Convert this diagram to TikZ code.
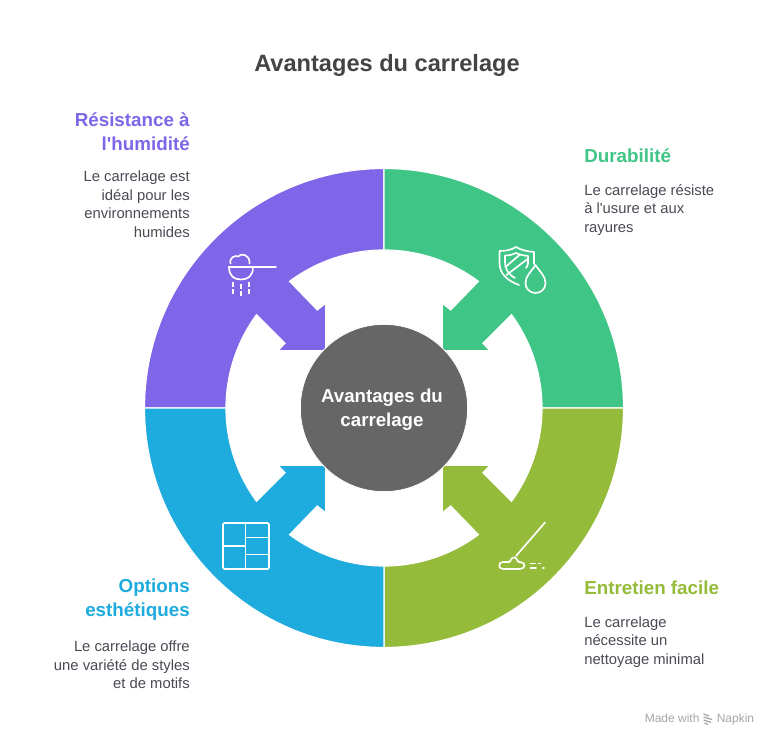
\documentclass[tikz,border=0pt]{standalone}
\usepackage{fontspec}
\setmainfont{Liberation Sans}
\definecolor{cpurple}{HTML}{7F66E8}
\definecolor{cgreen}{HTML}{3FC585}
\definecolor{colive}{HTML}{95BB3A}
\definecolor{cblue}{HTML}{1EABDD}
\definecolor{cgray}{HTML}{666666}
\definecolor{ctext}{HTML}{444444}
\definecolor{cbody}{HTML}{4A4A55}
\tikzset{
  quad/.style={draw=white,line width=0.9pt,line join=miter},
  px/.style={shift={(0,745)},yscale=-1},
  ttl/.style={text=ctext,inner sep=0pt,font=\bfseries\fontsize{17.7}{22}\selectfont},
  head/.style={inner sep=0pt,font=\bfseries\fontsize{14.1}{18}\selectfont},
  body/.style={inner sep=0pt,text=cbody,font=\fontsize{11.1}{13.9}\selectfont},
  ico/.style={draw=white,line width=1.25pt,line cap=round,line join=round},
  wm/.style={text=black!35,inner sep=0pt,font=\fontsize{9}{10}\selectfont},
}
\newcommand{\quadrant}[3]{%
  \begin{scope}[shift={(384,337)},xscale=#1,yscale=#2]
    \path[quad,fill=#3] (0,239.5) arc[start angle=90,end angle=180,radius=239.5]
      -- (-158,0) arc[start angle=180,end angle=143.8,radius=158]
      -- (-99,64.7) -- (-106,57.3) -- (-58.3,57.3) -- (-58.3,104.7) -- (-66.7,98)
      -- (126.7:158) arc[start angle=126.7,end angle=90,radius=158] -- cycle;
  \end{scope}}
\begin{document}
\begin{tikzpicture}[x=0.75pt,y=0.75pt]
\useasboundingbox[fill=white] (0,0) rectangle (774,745);
\quadrant{1}{1}{cpurple}
\quadrant{-1}{1}{cgreen}
\quadrant{-1}{-1}{colive}
\quadrant{1}{-1}{cblue}
\begin{scope}[px]
  \node[circle,fill=cgray,draw=white,line width=0.6pt,minimum size=125.5pt,inner sep=0pt] (center) at (384,408) {};
  \node[inner sep=0pt,align=center,text=white,font=\bfseries\fontsize{14}{18}\selectfont] (centerlabel) at (382,409.5) {Avantages du\\carrelage};
  \node[ttl] (title) at (387,65) {Avantages du carrelage};

  \node[head,text=cpurple,anchor=east,align=right] (h1) at (190,132) {Résistance à\\l\textquotesingle humidité};
  \node[body,anchor=east,align=right] (b1) at (190,204) {Le carrelage est\\idéal pour les\\environnements\\humides};

  \node[head,text=cgreen,anchor=west] (h2) at (584,156) {Durabilité};
  \node[body,anchor=west,align=left] (b2) at (584,210) {Le carrelage résiste\\à l\textquotesingle usure et aux\\rayures};

  \node[head,text=colive,anchor=west] (h3) at (584,588) {Entretien facile};
  \node[body,anchor=west,align=left] (b3) at (584,642) {Le carrelage\\nécessite un\\nettoyage minimal};

  \node[head,text=cblue,anchor=east,align=right] (h4) at (190,600) {Options\\esthétiques};
  \node[body,anchor=east,align=right] (b4) at (190,665) {Le carrelage offre\\une variété de styles\\et de motifs};

  % humidity icon
  \draw[ico] (228.5,267) -- (276,267);
  \draw[ico] (229,267) .. controls (229,276) and (234,279.5) .. (241,279.5) .. controls (248,279.5) and (253,276) .. (253,267);
  \draw[ico] (230.5,263.5) .. controls (229,257) and (236,255) .. (238,256.5) .. controls (241,253) and (250,254) .. (249.5,263.5);
  \draw[ico,line cap=butt,dash pattern=on 3.5pt off 2pt] (233,282) -- (233,296);
  \draw[ico,line cap=butt,dash pattern=on 3.5pt off 2pt] (241,284) -- (241,298);
  \draw[ico,line cap=butt,dash pattern=on 3.5pt off 2pt] (249,282) -- (249,296);

  % shield and drop icon
  \draw[ico] (519,285) .. controls (508,281) and (499,274) .. (499.5,262) -- (499.5,251) .. controls (506,251) and (511,250) .. (516,247) .. controls (521,250) and (527,251.5) .. (534,252) -- (534,264);
  \draw[ico] (515,278) .. controls (508,274) and (505,269) .. (505,262) -- (505,255.5) .. controls (510,255.5) and (513,254.5) .. (516,253) .. controls (519,254.5) and (523,255.5) .. (528,256) -- (528,263) .. controls (528,265) and (527,267) .. (526,268);
  \draw[ico] (505.5,267) -- (520,254.5);
  \draw[ico] (506.5,275) -- (527.5,259);
  \draw[ico] (535.5,265) .. controls (531,272) and (525.5,276) .. (525.5,283) .. controls (525.5,289) and (530,293) .. (535.5,293) .. controls (541,293) and (545.5,289) .. (545.5,283) .. controls (545.5,276) and (540,272) .. (535.5,265) -- cycle;

  % mop icon
  \draw[ico] (545,522.5) -- (516,556);
  \draw[ico] (503,562) -- (509,562) .. controls (511,562) and (510.5,557.5) .. (514,557.5) .. controls (517.5,557.5) and (517,562) .. (519,562) -- (520,562) .. controls (526,562) and (526,569) .. (520,569) -- (503,569) .. controls (498,569) and (498,562) .. (503,562) -- cycle;
  \draw[ico] (530.5,563.5) -- (535,563.5);
  \draw[ico] (538.5,563.5) -- (540.5,563.5);
  \draw[ico] (530.5,568) -- (536,568);
  \draw[ico] (543,568) -- (544,568);

  % tiles icon
  \draw[ico,rounded corners=1pt] (223,523) rectangle (269,569);
  \draw[ico] (245.5,523) -- (245.5,569);
  \draw[ico] (223,546) -- (245.5,546);
  \draw[ico] (245.5,537.5) -- (269,537.5);
  \draw[ico] (245.5,554.5) -- (269,554.5);

  % watermark
  \node[wm,anchor=base west] (made) at (644.5,723) {Made with};
  \node[wm,anchor=base west] (napkin) at (716.5,723) {Napkin};
  \draw[black!35,line width=0.95pt] (703.5,714) -- (709,716) (703.5,717) -- (712,719.5) (703.5,720) -- (711,722.5) (704.5,723) -- (708,724.5);
\end{scope}
\end{tikzpicture}
\end{document}
